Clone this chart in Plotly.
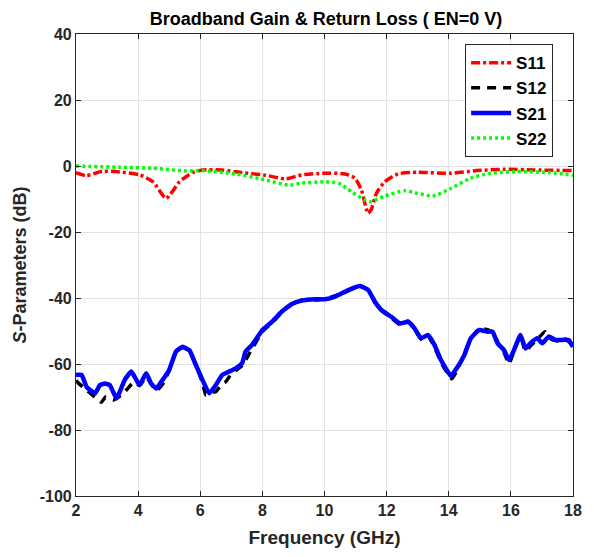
import plotly.graph_objects as go

# Frequency sweep points (GHz) and measured S-parameters (dB)
s11_freq = [2.0, 2.33, 2.85, 3.4, 4.05, 4.48, 4.9, 5.33, 5.75, 6.07, 6.7, 7.35, 8.1, 8.74,
            9.27, 10.0, 10.66, 10.98, 11.19, 11.4, 11.5, 11.67, 11.94, 12.37, 13.0, 14.07,
            14.9, 15.8, 16.74, 18.0]
s11_db = [-2.0, -2.9, -1.6, -1.8, -2.7, -4.8, -9.8, -4.8, -2.0, -1.2, -1.2, -2.0, -2.8, -3.9,
          -2.7, -2.2, -2.4, -3.7, -7.3, -14.3, -13.3, -8.3, -4.8, -2.4, -1.9, -2.2,
          -1.4, -1.0, -1.2, -1.4]

s22_freq = [2.0, 3.4, 4.48, 5.55, 6.07, 7.14, 8.0, 8.85, 9.27, 10.0, 10.45, 10.87, 11.3,
            11.5, 11.94, 12.58, 13.0, 13.49, 14.07, 14.7, 15.35, 16.2, 17.27, 18.0]
s22_db = [0.0, -0.4, -0.7, -1.5, -1.4, -2.4, -4.0, -5.8, -5.2, -4.8, -5.2, -7.8, -10.3,
          -10.8, -9.1, -7.5, -8.3, -9.1, -6.8, -3.7, -2.2, -1.7, -2.0, -2.8]

s21_freq = [2.0, 2.18, 2.34, 2.61, 2.77, 2.93, 3.09, 3.3, 3.41, 3.57, 3.78, 3.94, 4.05, 4.26,
            4.42, 4.58, 4.79, 5.0, 5.22, 5.43, 5.65, 5.86, 6.07, 6.29, 6.5, 6.71, 6.93, 7.14,
            7.35, 7.46, 7.67, 8.0, 8.31, 8.63, 8.95, 9.27, 9.7, 10.02, 10.34, 10.77, 11.14,
            11.41, 11.62, 11.83, 12.15, 12.42, 12.69, 12.9, 13.11, 13.33, 13.54, 13.75,
            14.07, 14.29, 14.5, 14.71, 14.98, 15.25, 15.41, 15.57, 15.78, 15.94, 16.1,
            16.31, 16.47, 16.63, 16.85, 17.01, 17.22, 17.43, 17.65, 17.86, 18.0]
s21_db = [-63.3, -63.3, -66.9, -68.9, -66.4, -65.9, -66.4, -70.4, -68.4, -64.8, -62.3, -64.8,
          -66.4, -62.8, -65.9, -67.4, -64.8, -61.8, -56.2, -54.8, -55.8, -60.3, -64.8, -68.9,
          -66.4, -63.3, -62.3, -61.3, -59.7, -56.2, -54.2, -49.7, -47.2, -44.1, -41.8, -40.8,
          -40.4, -40.4, -39.6, -37.6, -36.4, -37.6, -41.1, -43.6, -45.7, -47.7, -47.2, -49.2,
          -52.2, -51.2, -54.2, -58.8, -63.6, -60.8, -57.3, -52.2, -49.7, -50.2, -50.2, -53.7,
          -55.8, -58.8, -55.8, -51.2, -55.3, -53.7, -52.2, -53.7, -51.7, -52.7, -52.7, -52.7,
          -54.8]

s12_freq = [2.0, 2.08, 2.34, 2.6, 2.82, 2.95, 3.2, 3.46, 3.67, 3.85, 4.05, 4.26, 4.45, 4.6,
            4.8, 5.0, 5.22, 5.43, 5.65, 5.86, 6.07, 6.18, 6.4, 6.5, 6.71, 6.82, 7.0, 7.14,
            7.35, 7.6, 8.0, 8.31, 8.63, 8.95, 9.27, 9.7, 10.02, 10.34, 10.77, 11.14, 11.41,
            11.62, 11.83, 12.15, 12.42, 12.69, 12.9, 13.11, 13.33, 13.54, 13.75, 14.1, 14.29,
            14.5, 14.71, 14.98, 15.25, 15.45, 15.6, 15.78, 15.94, 16.1, 16.31, 16.47, 16.63,
            16.85, 17.1, 17.3, 17.5, 17.7, 17.86, 18.0]
s12_db = [-65.0, -65.8, -67.9, -70.0, -71.6, -70.0, -70.9, -69.4, -67.4, -65.5, -66.5, -64.0,
          -66.5, -68.0, -66.0, -62.0, -56.5, -55.0, -56.0, -60.5, -65.5, -69.4, -68.5, -68.4,
          -66.0, -65.4, -63.0, -62.0, -60.5, -56.5, -50.2, -47.5, -44.3, -42.0, -40.6, -40.6,
          -40.2, -39.4, -37.8, -36.3, -37.5, -41.3, -43.8, -46.0, -48.0, -47.0, -49.5, -52.5,
          -51.5, -54.8, -59.5, -64.5, -61.5, -57.0, -52.5, -49.3, -49.6, -50.5, -54.0, -56.5,
          -60.0, -56.0, -51.5, -56.2, -54.5, -52.5, -50.2, -52.5, -53.0, -52.2, -53.2, -54.5]

x_ticks = [2, 4, 6, 8, 10, 12, 14, 16, 18]
y_ticks = [40, 20, 0, -20, -40, -60, -80, -100]

FONT = "Liberation Sans, Arial, sans-serif"
AXIS_COLOR = "#262626"

fig = go.Figure()
fig.add_trace(go.Scatter(x=s11_freq, y=s11_db, name="S11", mode="lines",
                         line=dict(color="#FF0000", width=3.5, dash="9px,3px,3px,3px",
                                   shape="spline", smoothing=0.6)))
fig.add_trace(go.Scatter(x=s12_freq, y=s12_db, name="S12", mode="lines",
                         line=dict(color="#000000", width=3.5, dash="9px,7px",
                                   shape="spline", smoothing=0.4)))
fig.add_trace(go.Scatter(x=s21_freq, y=s21_db, name="S21", mode="lines",
                         line=dict(color="#0000FF", width=4.5,
                                   shape="spline", smoothing=0.4)))
fig.add_trace(go.Scatter(x=s22_freq, y=s22_db, name="S22", mode="lines",
                         line=dict(color="#00FF00", width=3.5, dash="3px,3px",
                                   shape="spline", smoothing=0.6)))

axis_common = dict(
    showline=True, linecolor=AXIS_COLOR, linewidth=1.2, mirror="ticks",
    ticks="inside", ticklen=5, tickcolor=AXIS_COLOR, tickwidth=1,
    showgrid=True, gridcolor="#e3e3e3", gridwidth=1, zeroline=False,
    tickfont=dict(family=FONT, size=16, color=AXIS_COLOR, weight="bold"),
)

fig.update_xaxes(range=[2, 18], tickvals=x_ticks, ticktext=[str(v) for v in x_ticks],
                 title=dict(text="<b>Frequency (GHz)</b>", standoff=12,
                            font=dict(family=FONT, size=19, color=AXIS_COLOR)),
                 **axis_common)
fig.update_yaxes(range=[-100, 40], tickvals=y_ticks, ticktext=[str(v) for v in y_ticks],
                 title=dict(text="<b><i>S</i>-Parameters (dB)</b>", standoff=8,
                            font=dict(family=FONT, size=18, color=AXIS_COLOR)),
                 **axis_common)

fig.update_layout(
    width=594, height=557,
    margin=dict(l=76, r=18, t=34, b=61),
    paper_bgcolor="white", plot_bgcolor="white",
    title=dict(text="<b>Broadband Gain & Return Loss ( EN=0 V)</b>",
               x=(76 + 576) / 2 / 594, xanchor="center",
               y=1 - 19 / 557, yanchor="middle", yref="container",
               font=dict(family=FONT, size=18, color="#000000")),
    legend=dict(x=0.96, xanchor="right", y=0.978, yanchor="top",
                bgcolor="white", bordercolor=AXIS_COLOR, borderwidth=1,
                font=dict(family=FONT, size=17, color="#000000", weight="bold"),
                itemwidth=40, tracegroupgap=0),
    showlegend=True,
)

fig.write_html("out.html")
